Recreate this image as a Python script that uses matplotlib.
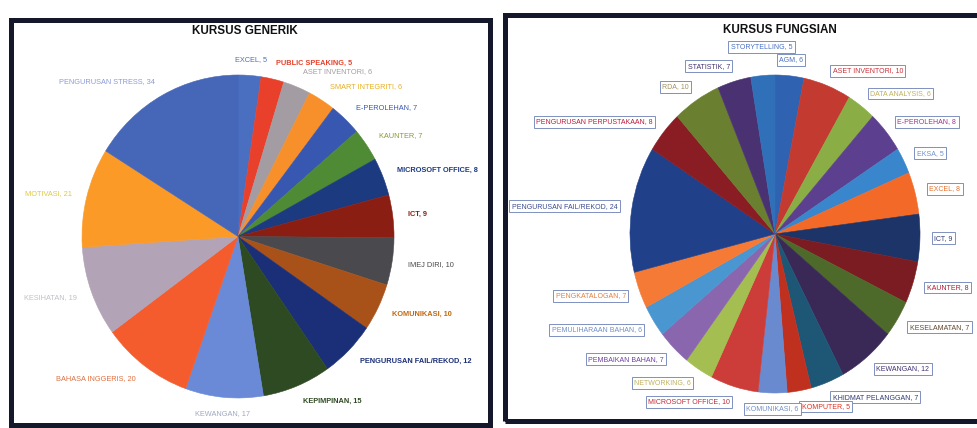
import numpy as np
import matplotlib
matplotlib.use('Agg')
import matplotlib.pyplot as plt
from matplotlib.patches import Rectangle

plt.rcParams['font.family'] = ['Liberation Sans Narrow', 'Liberation Sans', 'DejaVu Sans']

# --- KURSUS GENERIK ---
gen_names = ['EXCEL', 'PUBLIC SPEAKING', 'ASET INVENTORI', 'SMART INTEGRITI', 'E-PEROLEHAN',
             'KAUNTER', 'MICROSOFT OFFICE', 'ICT', 'IMEJ DIRI', 'KOMUNIKASI',
             'PENGURUSAN FAIL/REKOD', 'KEPIMPINAN', 'KEWANGAN', 'BAHASA INGGERIS',
             'KESIHATAN', 'MOTIVASI', 'PENGURUSAN STRESS']
gen_values = [5, 5, 6, 6, 7, 7, 8, 9, 10, 10, 12, 15, 17, 20, 19, 21, 34]
gen_colors = ['#4a6fc0', '#e8402a', '#a39ca2', '#f7902a', '#3857b0', '#4f8a35', '#1c3a80',
              '#8b1e12', '#4a4a4e', '#a8521a', '#1a2f78', '#2e4a22', '#6a8ad8', '#f45c2e',
              '#b3a3b6', '#fb9a26', '#4666b8']
gen_text_colors = ['#4a6fc0', '#e8402a', '#a39ca2', '#e8b020', '#3857b0', '#8a9a30', '#1c3a80',
                   '#8b1e12', '#4a4a4e', '#c06a10', '#1a2f78', '#2e4a22', '#a0a8c0', '#e07040',
                   '#c0c0c8', '#e0c840', '#8a9ad8']
gen_weights = ['normal', 'bold', 'normal', 'normal', 'normal', 'normal', 'bold', 'bold',
               'normal', 'bold', 'bold', 'bold', 'normal', 'normal', 'normal', 'normal', 'normal']

# --- KURSUS FUNGSIAN ---
fun_names = ['AGM', 'ASET INVENTORI', 'DATA ANALYSIS', 'E-PEROLEHAN', 'EKSA', 'EXCEL', 'ICT',
             'KAUNTER', 'KESELAMATAN', 'KEWANGAN', 'KHIDMAT PELANGGAN', 'KOMPUTER',
             'KOMUNIKASI', 'MICROSOFT OFFICE', 'NETWORKING', 'PEMBAIKAN BAHAN',
             'PEMULIHARAAN BAHAN', 'PENGKATALOGAN', 'PENGURUSAN FAIL/REKOD',
             'PENGURUSAN PERPUSTAKAAN', 'RDA', 'STATISTIK', 'STORYTELLING']
fun_values = [6, 10, 6, 8, 5, 8, 9, 8, 7, 12, 7, 5, 6, 10, 6, 7, 6, 7, 24, 8, 10, 7, 5]
fun_colors = ['#2f62b0', '#c23a30', '#8aae45', '#5c3f8e', '#3a86cc', '#f36a28', '#1c3468',
              '#7a1c22', '#4e6a2a', '#3a2856', '#1e5676', '#c0301e', '#6a8ad0', '#cc3c38',
              '#a4be52', '#8a66ae', '#4a96d0', '#f57a36', '#20408a', '#8a1c24', '#6a7f30',
              '#4a3272', '#2f70b8']
fun_text_colors = ['#4a70c0', '#c83038', '#c0b060', '#a03090', '#7090c8', '#e07030', '#303a70',
                   '#b01830', '#604830', '#403070', '#303a70', '#e03020', '#7090c8', '#c02838',
                   '#c0b060', '#7040a0', '#7090c8', '#e08040', '#3a4a90', '#c01838', '#a09060',
                   '#403070', '#4a70c0']
fun_weights = ['normal'] * len(fun_names)

fig = plt.figure(figsize=(9.77, 4.28), dpi=100)
W, H = 977, 428


def px_axes(x0, y0, x1, y1):
    return fig.add_axes([x0 / W, 1 - y1 / H, (x1 - x0) / W, (y1 - y0) / H])


def draw_pie(ax, names, values, colors, text_colors, weights, boxed, fs):
    wedges, _ = ax.pie(values, colors=colors, startangle=90, counterclock=False, radius=1)
    ax.set_xlim(-1, 1)
    ax.set_ylim(-1, 1)
    ax.set_aspect('auto')
    ax.axis('off')
    texts = []
    for w, name, val, tc, fw in zip(wedges, names, values, text_colors, weights):
        w.set_edgecolor(w.get_facecolor())
        w.set_linewidth(0.4)
        ang = np.deg2rad((w.theta1 + w.theta2) / 2)
        x, y = 1.1 * np.cos(ang), 1.1 * np.sin(ang)
        if x > 0.16:
            ha = 'left'
        elif x < -0.16:
            ha = 'right'
        else:
            ha = 'center'
        kw = {}
        if boxed:
            kw['bbox'] = dict(boxstyle='square,pad=0.35', fc='white', ec='#8090c0', lw=0.7)
        t = ax.text(x, y, f'{name}, {val}', ha=ha, va='center', fontsize=fs, color=tc,
                    fontweight=fw, clip_on=False, **kw)
        texts.append(t)
    return texts


ax1 = px_axes(82, 75, 394, 398)
draw_pie(ax1, gen_names, gen_values, gen_colors, gen_text_colors, gen_weights, False, 5.3)

ax2 = px_axes(630, 75, 920, 393)
fun_texts = draw_pie(ax2, fun_names, fun_values, fun_colors, fun_text_colors, fun_weights,
                     True, 5.0)

# lift crowded labels in the upper half (a label hitting two neighbours moves up)
fig.canvas.draw()
r = fig.canvas.get_renderer()
boxes = [t.get_bbox_patch().get_window_extent(r) for t in fun_texts]
for i, t in enumerate(fun_texts):
    if t.get_position()[1] <= 0.5:
        continue
    hits = sum(1 for j, b in enumerate(boxes) if j != i and b.overlaps(boxes[i]))
    if hits >= 2:
        x, y = t.get_position()
        t.set_position((x, y + (boxes[i].height + 1) / ax2.bbox.height * 2))

fig.text(245 / W, 1 - 31 / H, 'KURSUS GENERIK', ha='center', va='center',
         fontsize=8.4, fontweight='bold', color='#111111')
fig.text(780 / W, 1 - 30 / H, 'KURSUS FUNGSIAN', ha='center', va='center',
         fontsize=8.4, fontweight='bold', color='#111111')

# panel frames
fig.patches.append(Rectangle((10.5 / W, 1 - 425 / H), 479 / W, 405.5 / H, fill=False,
                             ec='#15182a', lw=3.6, transform=fig.transFigure))
fig.patches.append(Rectangle((504.5 / W, 1 - 420.5 / H), 490 / W, 406 / H, fill=False,
                             ec='#15182a', lw=3.6, transform=fig.transFigure))

fig.savefig('out.png', dpi=100)
